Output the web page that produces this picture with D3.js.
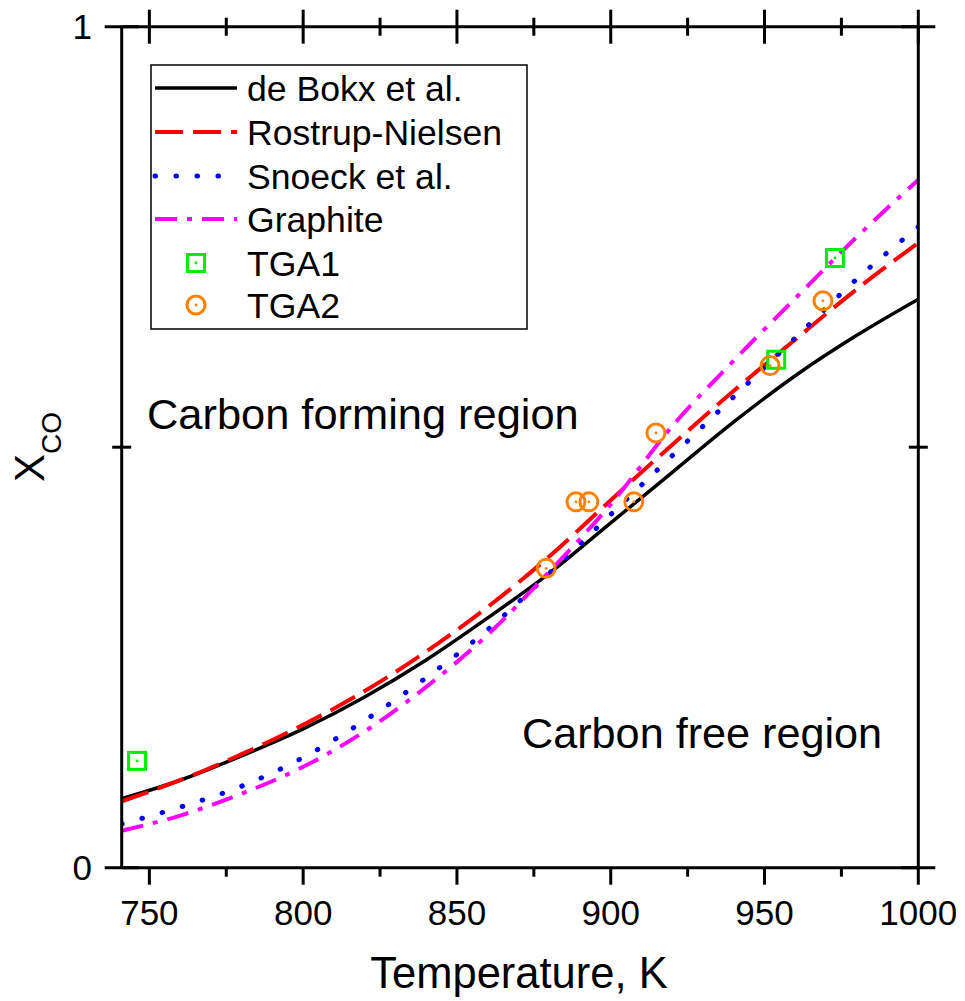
<!DOCTYPE html>
<html>
<head>
<meta charset="utf-8">
<script src="https://cdn.jsdelivr.net/npm/d3@7"></script>
<style>
  html, body { margin: 0; padding: 0; background: #fff; }
  svg { display: block; font-family: "Liberation Sans", Arial, sans-serif; }
</style>
</head>
<body>
<svg id="chart" width="965" height="1001"></svg>
<script>
// Temperature grid (K) shared by the model curves
const temps = [741, 760, 780, 800, 820, 840, 860, 880, 900, 920, 940, 960, 980, 1000];

// Equilibrium CO fraction curves
const deBokx   = [0.082, 0.104, 0.133, 0.165, 0.203, 0.247, 0.297, 0.350, 0.410, 0.470, 0.530, 0.585, 0.633, 0.676];
const rostrup  = [0.079, 0.104, 0.135, 0.170, 0.210, 0.257, 0.310, 0.370, 0.437, 0.503, 0.567, 0.628, 0.688, 0.743];
const snoeck   = [0.052, 0.072, 0.097, 0.131, 0.175, 0.226, 0.283, 0.350, 0.420, 0.490, 0.560, 0.630, 0.700, 0.762];
const graphite = [0.044, 0.062, 0.088, 0.120, 0.162, 0.215, 0.277, 0.352, 0.432, 0.525, 0.603, 0.677, 0.750, 0.818];

// TGA measurements
const tga1T = [746, 953.8, 972.9];
const tga1X = [0.127, 0.604, 0.725];
const tga2T = [879, 888.7, 892.9, 907.5, 914.7, 951.8, 969];
const tga2X = [0.356, 0.435, 0.435, 0.435, 0.517, 0.597, 0.674];

// Axis ticks
const xMajor = [750, 800, 850, 900, 950, 1000];
const xMinor = [775, 825, 875, 925, 975];
const yMajor = [0, 1];
const yMinor = [0.5];

const svg = d3.select("#chart");
const plotL = 121.7, plotR = 918.3, plotT = 26.7, plotB = 867.7;

const x = d3.scaleLinear().domain([741, 1000]).range([plotL, plotR]);
const y = d3.scaleLinear().domain([0, 1]).range([plotB, plotT]);

const series = [
  { name: "de Bokx et al.",  vals: deBokx,   color: "#000000", dash: null,         cap: "butt",  w: 3.5 },
  { name: "Rostrup-Nielsen", vals: rostrup,  color: "#ff0000", dash: "28,10",      cap: "butt",  w: 4 },
  { name: "Snoeck et al.",   vals: snoeck,   color: "#0000ff", dash: "0.5,20.5",   cap: "round", w: 5 },
  { name: "Graphite",        vals: graphite, color: "#ff00ff", dash: "22,10,5,10", cap: "butt",  w: 4 }
];

svg.append("defs").append("clipPath").attr("id", "plotclip")
  .append("rect").attr("x", plotL).attr("y", plotT).attr("width", plotR - plotL).attr("height", plotB - plotT);

const line = d3.line().x(d => x(d[0])).y(d => y(d[1])).curve(d3.curveMonotoneX);

const curves = svg.append("g").attr("clip-path", "url(#plotclip)");
series.forEach(s => {
  curves.append("path")
    .datum(temps.map((t, i) => [t, s.vals[i]]))
    .attr("d", line)
    .attr("fill", "none")
    .attr("stroke", s.color)
    .attr("stroke-width", s.w)
    .attr("stroke-linecap", s.cap)
    .attr("stroke-dasharray", s.dash);
});

// Marker drawing helpers
function squareMarker(g, cx, cy) {
  g.append("rect").attr("x", cx - 8.5).attr("y", cy - 8.5).attr("width", 17).attr("height", 17)
    .attr("fill", "none").attr("stroke", "#00ee00").attr("stroke-width", 3);
  g.append("circle").attr("cx", cx).attr("cy", cy).attr("r", 1.4).attr("fill", "#00ee00");
}
function circleMarker(g, cx, cy) {
  g.append("circle").attr("cx", cx).attr("cy", cy).attr("r", 9)
    .attr("fill", "none").attr("stroke", "#ff8000").attr("stroke-width", 3);
  g.append("circle").attr("cx", cx).attr("cy", cy).attr("r", 1.4).attr("fill", "#ff8000");
}

const pts = svg.append("g");
tga1T.forEach((t, i) => squareMarker(pts, x(t), y(tga1X[i])));
tga2T.forEach((t, i) => circleMarker(pts, x(t), y(tga2X[i])));

// Axes frame and ticks
const ax = svg.append("g").attr("stroke", "#000").attr("stroke-width", 3).attr("fill", "none");
ax.append("line").attr("x1", plotL).attr("x2", plotL).attr("y1", plotT).attr("y2", plotB);
ax.append("line").attr("x1", plotR).attr("x2", plotR).attr("y1", plotT).attr("y2", plotB);
ax.append("line").attr("x1", plotL).attr("x2", plotR).attr("y1", plotT).attr("y2", plotT);
ax.append("line").attr("x1", plotL).attr("x2", plotR).attr("y1", plotB).attr("y2", plotB);

// bottom ticks point outward, top ticks cross the frame
xMajor.forEach(v => {
  ax.append("line").attr("x1", x(v)).attr("x2", x(v)).attr("y1", plotB).attr("y2", plotB + 17);
  ax.append("line").attr("x1", x(v)).attr("x2", x(v)).attr("y1", plotT - 17).attr("y2", plotT + 17);
});
xMinor.forEach(v => {
  ax.append("line").attr("x1", x(v)).attr("x2", x(v)).attr("y1", plotB).attr("y2", plotB + 9);
  ax.append("line").attr("x1", x(v)).attr("x2", x(v)).attr("y1", plotT - 9).attr("y2", plotT + 9);
});
yMajor.forEach(v => {
  ax.append("line").attr("x1", plotL - 17).attr("x2", plotL + 17).attr("y1", y(v)).attr("y2", y(v));
  ax.append("line").attr("x1", plotR - 17).attr("x2", plotR + 17).attr("y1", y(v)).attr("y2", y(v));
});
yMinor.forEach(v => {
  ax.append("line").attr("x1", plotL - 9.5).attr("x2", plotL + 9.5).attr("y1", y(v)).attr("y2", y(v));
  ax.append("line").attr("x1", plotR - 9.5).attr("x2", plotR + 9.5).attr("y1", y(v)).attr("y2", y(v));
});

// Tick labels
const lbl = svg.append("g").attr("fill", "#000").attr("font-size", 35);
xMajor.forEach(v => {
  lbl.append("text").attr("x", x(v)).attr("y", 925).attr("text-anchor", "middle").text(d3.format("d")(v));
});
yMajor.forEach(v => {
  lbl.append("text").attr("x", 92).attr("y", y(v) + 12).attr("text-anchor", "end").text(d3.format("d")(v));
});

// Axis titles
svg.append("text").attr("x", 519).attr("y", 988).attr("text-anchor", "middle")
  .attr("font-size", 43.5).text("Temperature, K");

const yt = svg.append("text").attr("transform", "translate(44,447) rotate(-90)")
  .attr("text-anchor", "middle").attr("font-size", 42);
yt.append("tspan").text("X");
yt.append("tspan").attr("font-size", 28).attr("dy", 17).text("CO");

// Region annotations
svg.append("text").attr("x", 147).attr("y", 429).attr("font-size", 43.4).text("Carbon forming region");
svg.append("text").attr("x", 522).attr("y", 748).attr("font-size", 43.2).text("Carbon free region");

// Legend
const lg = svg.append("g");
lg.append("rect").attr("x", 151).attr("y", 65).attr("width", 376).attr("height", 264)
  .attr("fill", "#fff").attr("stroke", "#000").attr("stroke-width", 1.5);
const rowY = [88, 132, 176, 219, 263, 305];
const legendFont = 35.6;
series.forEach((s, i) => {
  lg.append("line").attr("x1", 155).attr("x2", 237).attr("y1", rowY[i]).attr("y2", rowY[i])
    .attr("stroke", s.color).attr("stroke-width", s.w)
    .attr("stroke-linecap", s.cap).attr("stroke-dasharray", s.dash);
  lg.append("text").attr("x", 247).attr("y", rowY[i] + 12.5).attr("font-size", legendFont).text(s.name);
});
squareMarker(lg, 196, rowY[4]);
lg.append("text").attr("x", 247).attr("y", rowY[4] + 12.5).attr("font-size", legendFont).text("TGA1");
circleMarker(lg, 196, rowY[5]);
lg.append("text").attr("x", 247).attr("y", rowY[5] + 12.5).attr("font-size", legendFont).text("TGA2");
</script>
</body>
</html>
